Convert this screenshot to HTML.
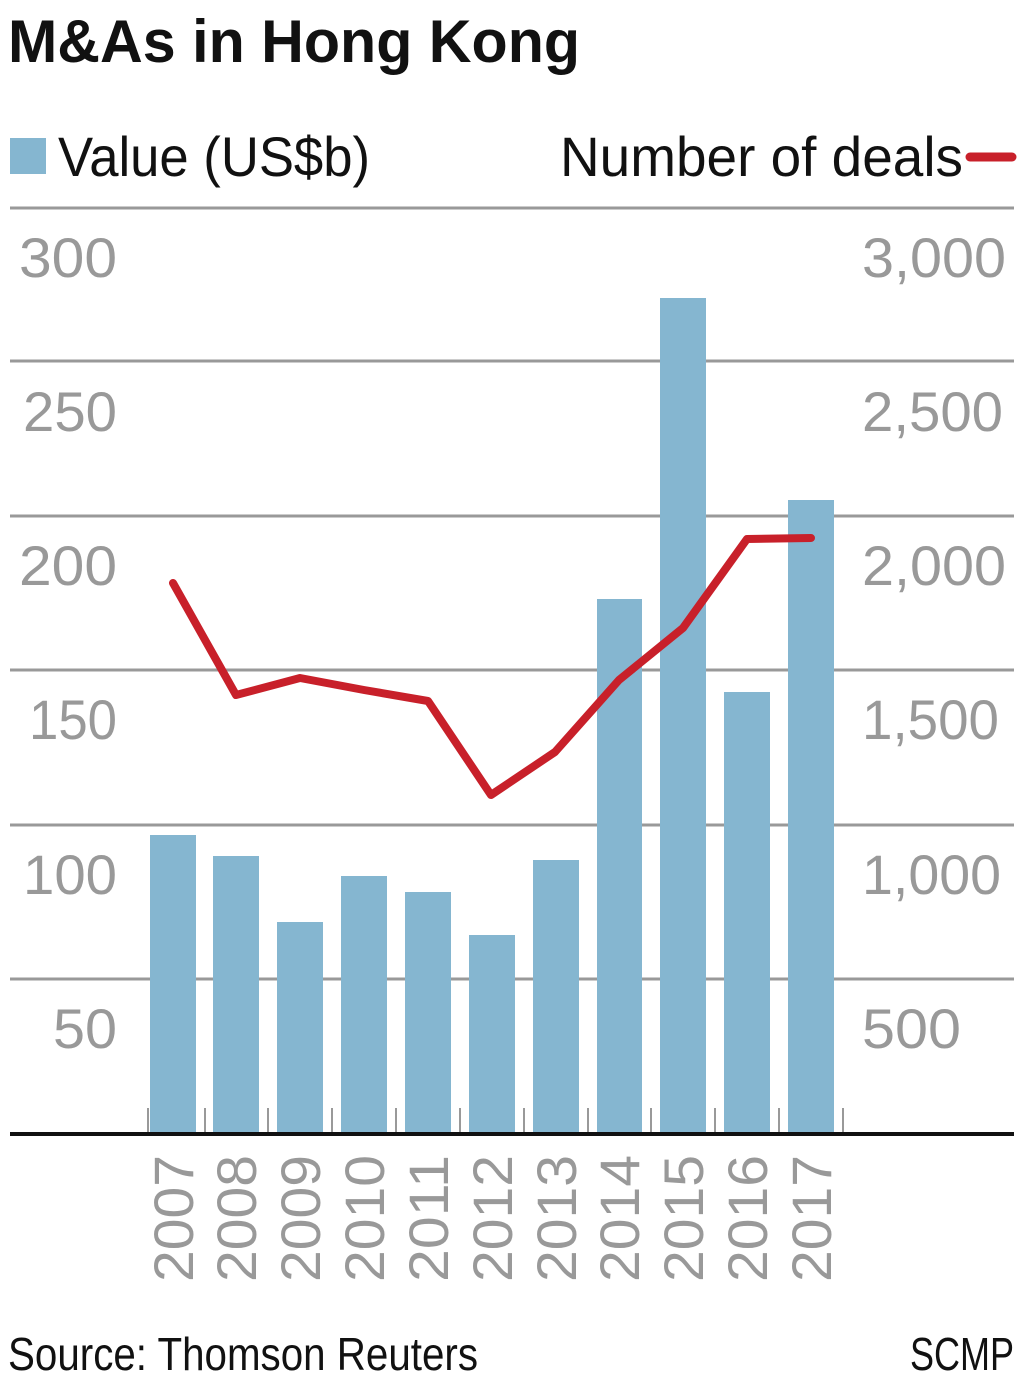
<!DOCTYPE html>
<html><head><meta charset="utf-8"><style>
html,body{margin:0;padding:0;background:#fff;}
svg{display:block;}
text{font-family:"Liberation Sans Narrow","Liberation Sans",sans-serif;}
</style></head><body>
<svg width="1024" height="1385" viewBox="0 0 1024 1385" xmlns="http://www.w3.org/2000/svg">
<text x="8" y="62" font-size="60" font-weight="bold" fill="#111" textLength="572" lengthAdjust="spacingAndGlyphs">M&amp;As in Hong Kong</text>
<rect x="10" y="138" width="36" height="36" fill="#85b6d0"/>
<text x="58" y="176" font-size="56" fill="#111" textLength="312" lengthAdjust="spacingAndGlyphs">Value (US$b)</text>
<text x="560" y="176" font-size="56" fill="#111" textLength="403" lengthAdjust="spacingAndGlyphs">Number of deals</text>
<line x1="970" y1="157" x2="1012" y2="157" stroke="#c8202a" stroke-width="9" stroke-linecap="round"/>
<g stroke="#999" stroke-width="3">
<line x1="10" y1="208" x2="1014" y2="208"/>
<line x1="10" y1="361" x2="1014" y2="361"/>
<line x1="10" y1="516" x2="1014" y2="516"/>
<line x1="10" y1="670" x2="1014" y2="670"/>
<line x1="10" y1="825" x2="1014" y2="825"/>
<line x1="10" y1="979" x2="1014" y2="979"/>
</g>
<g font-size="56" fill="#999" text-anchor="end">
<text x="117" y="277" textLength="98" lengthAdjust="spacingAndGlyphs">300</text><text x="117" y="431" textLength="94" lengthAdjust="spacingAndGlyphs">250</text><text x="117" y="585" textLength="98" lengthAdjust="spacingAndGlyphs">200</text>
<text x="117" y="739" textLength="88" lengthAdjust="spacingAndGlyphs">150</text><text x="117" y="894" textLength="94" lengthAdjust="spacingAndGlyphs">100</text><text x="117" y="1048" textLength="64" lengthAdjust="spacingAndGlyphs">50</text>
</g>
<g font-size="56" fill="#999">
<text x="862" y="277" textLength="144" lengthAdjust="spacingAndGlyphs">3,000</text><text x="862" y="431" textLength="141" lengthAdjust="spacingAndGlyphs">2,500</text><text x="862" y="585" textLength="144" lengthAdjust="spacingAndGlyphs">2,000</text>
<text x="862" y="739" textLength="137" lengthAdjust="spacingAndGlyphs">1,500</text><text x="862" y="894" textLength="139" lengthAdjust="spacingAndGlyphs">1,000</text><text x="862" y="1048" textLength="99" lengthAdjust="spacingAndGlyphs">500</text>
</g>
<g fill="#85b6d0">
<rect x="150" y="835" width="46" height="298"/>
<rect x="213" y="856" width="46" height="277"/>
<rect x="277" y="922" width="46" height="211"/>
<rect x="341" y="876" width="46" height="257"/>
<rect x="405" y="892" width="46" height="241"/>
<rect x="469" y="935" width="46" height="198"/>
<rect x="533" y="860" width="46" height="273"/>
<rect x="597" y="599" width="45" height="534"/>
<rect x="660" y="298" width="46" height="835"/>
<rect x="724" y="692" width="46" height="441"/>
<rect x="788" y="500" width="46" height="633"/>
</g>
<g stroke="#999" stroke-width="2">
<line x1="148" y1="1108" x2="148" y2="1133"/><line x1="205" y1="1108" x2="205" y2="1133"/>
<line x1="268" y1="1108" x2="268" y2="1133"/><line x1="332" y1="1108" x2="332" y2="1133"/>
<line x1="396" y1="1108" x2="396" y2="1133"/><line x1="460" y1="1108" x2="460" y2="1133"/>
<line x1="524" y1="1108" x2="524" y2="1133"/><line x1="588" y1="1108" x2="588" y2="1133"/>
<line x1="651" y1="1108" x2="651" y2="1133"/><line x1="715" y1="1108" x2="715" y2="1133"/>
<line x1="779" y1="1108" x2="779" y2="1133"/><line x1="843" y1="1108" x2="843" y2="1133"/>
</g>
<line x1="10" y1="1134" x2="1014" y2="1134" stroke="#111" stroke-width="4"/>
<polyline points="173,583 236,695 300,678 364,690 428,701 491,795 555,752 619,680 683,628 747,539 811,538" fill="none" stroke="#c8202a" stroke-width="8" stroke-linejoin="round" stroke-linecap="round"/>
<g font-size="56" fill="#999">
<text transform="translate(193,1282) rotate(-90)" textLength="127" lengthAdjust="spacingAndGlyphs">2007</text>
<text transform="translate(256,1282) rotate(-90)" textLength="127" lengthAdjust="spacingAndGlyphs">2008</text>
<text transform="translate(320,1282) rotate(-90)" textLength="127" lengthAdjust="spacingAndGlyphs">2009</text>
<text transform="translate(384,1282) rotate(-90)" textLength="127" lengthAdjust="spacingAndGlyphs">2010</text>
<text transform="translate(448,1282) rotate(-90)" textLength="127" lengthAdjust="spacingAndGlyphs">2011</text>
<text transform="translate(512,1282) rotate(-90)" textLength="127" lengthAdjust="spacingAndGlyphs">2012</text>
<text transform="translate(576,1282) rotate(-90)" textLength="127" lengthAdjust="spacingAndGlyphs">2013</text>
<text transform="translate(639,1282) rotate(-90)" textLength="127" lengthAdjust="spacingAndGlyphs">2014</text>
<text transform="translate(703,1282) rotate(-90)" textLength="127" lengthAdjust="spacingAndGlyphs">2015</text>
<text transform="translate(767,1282) rotate(-90)" textLength="127" lengthAdjust="spacingAndGlyphs">2016</text>
<text transform="translate(831,1282) rotate(-90)" textLength="127" lengthAdjust="spacingAndGlyphs">2017</text>
</g>
<text x="8" y="1370" font-size="46" fill="#111" textLength="470" lengthAdjust="spacingAndGlyphs">Source: Thomson Reuters</text>
<text x="910" y="1370" font-size="46" fill="#111" textLength="104" lengthAdjust="spacingAndGlyphs">SCMP</text>
</svg>
</body></html>
